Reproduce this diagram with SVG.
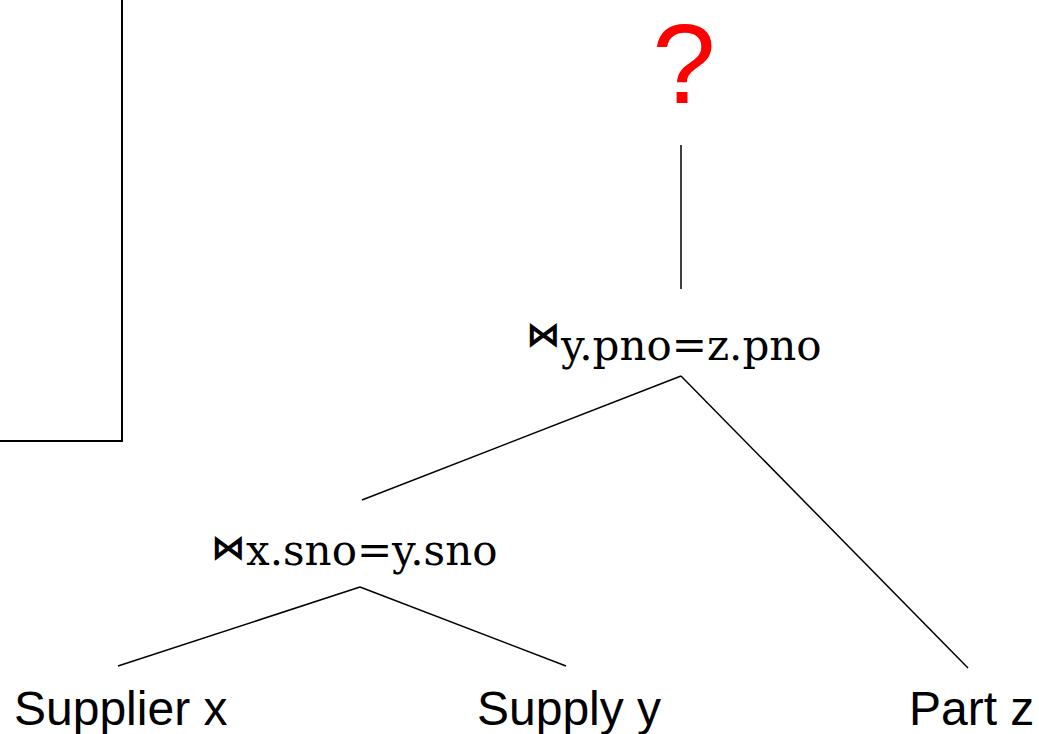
<svg xmlns="http://www.w3.org/2000/svg" width="1039" height="734" viewBox="0 0 1039 734">
<style>
.ln{stroke:#000;stroke-width:1.5;fill:none}
.op{font-family:"DejaVu Serif","Liberation Serif",serif;font-size:42px;fill:#000}
.sym{font-family:"DejaVu Sans","DejaVu Serif",sans-serif;font-size:34px;font-weight:bold;fill:#000}
.leaf{font-family:"Liberation Sans",Arial,sans-serif;font-size:48px;fill:#000}
</style>
<rect width="1039" height="734" fill="#fff"/>
<g id="frame">
<path class="ln" d="M122,0 V441 H0" style="stroke-width:2"/>
</g>
<g id="connectors">
<line class="ln" x1="681" y1="145" x2="681" y2="289"/>
<line class="ln" x1="681" y1="376" x2="362" y2="500"/>
<line class="ln" x1="681" y1="376" x2="968" y2="668"/>
<line class="ln" x1="360" y1="587" x2="118" y2="666"/>
<line class="ln" x1="360" y1="587" x2="566" y2="666"/>
</g>
<g id="root">
<text x="684" y="103" text-anchor="middle" style="font-family:'Liberation Sans',Arial,sans-serif;font-size:114px;fill:#f00">?</text>
</g>
<g id="join2">
<text class="sym" x="526" y="346">⋈</text>
<text class="op" x="561" y="360">y.pno=z.pno</text>
</g>
<g id="join1">
<text class="sym" x="211" y="559">⋈</text>
<text class="op" x="246" y="565">x.sno=y.sno</text>
</g>
<g id="supplier">
<text class="leaf" x="14" y="725">Supplier x</text>
</g>
<g id="supply">
<text class="leaf" x="477" y="725">Supply y</text>
</g>
<g id="part">
<text class="leaf" x="909" y="725">Part z</text>
</g>
</svg>
